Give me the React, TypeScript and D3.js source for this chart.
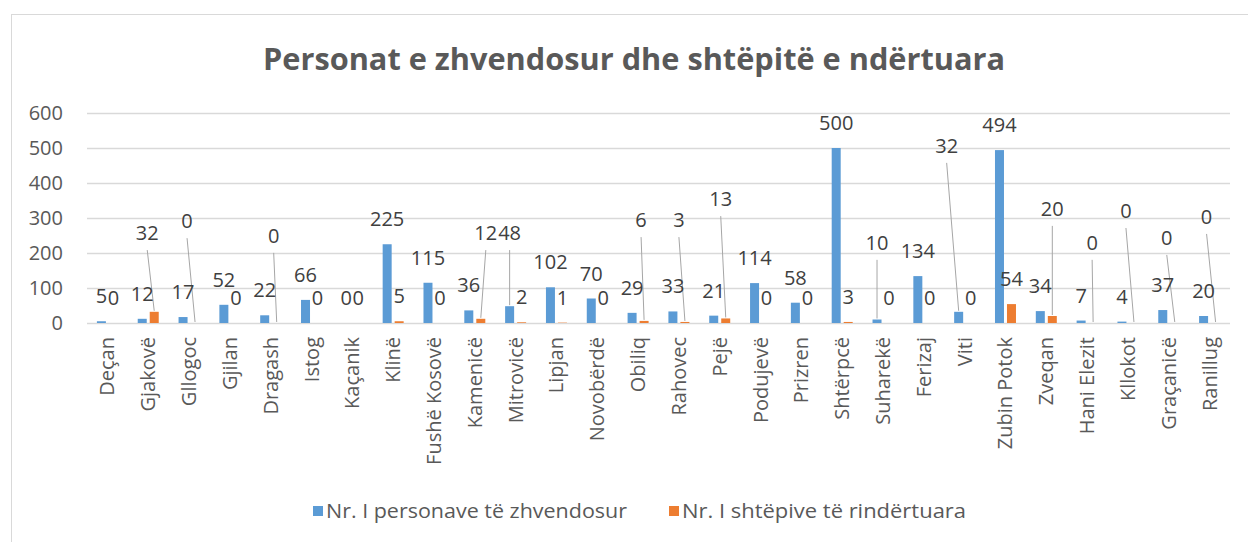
import React, { useEffect, useRef } from 'react';
import * as d3 from 'd3';

const categories = [
  'Deçan', 'Gjakovë', 'Gllogoc', 'Gjilan', 'Dragash', 'Istog', 'Kaçanik', 'Klinë',
  'Fushë Kosovë', 'Kamenicë', 'Mitrovicë', 'Lipjan', 'Novobërdë', 'Obiliq', 'Rahovec',
  'Pejë', 'Podujevë', 'Prizren', 'Shtërpcë', 'Suharekë', 'Ferizaj', 'Viti',
  'Zubin Potok', 'Zveqan', 'Hani Elezit', 'Kllokot', 'Graçanicë', 'Ranillug',
];

const displaced = [5, 12, 17, 52, 22, 66, 0, 225, 115, 36, 48, 102, 70, 29, 33, 21, 114, 58, 500, 10, 134, 32, 494, 34, 7, 4, 37, 20];
const rebuilt = [0, 32, 0, 0, 0, 0, 0, 5, 0, 12, 2, 1, 0, 6, 3, 13, 0, 0, 3, 0, 0, 0, 54, 20, 0, 0, 0, 0];

const seriesNames = ['Nr. I personave të zhvendosur', 'Nr. I shtëpive të rindërtuara'];
const seriesColors = ['#5b9bd5', '#ed7d31'];
const yTicks = [0, 100, 200, 300, 400, 500, 600];

// labels Excel pulled away from their bars (with a leader line): at = value height of label
const movedLabels = [
  { cat: 'Gjakovë', s: 1, at: 257, dx: -7 },
  { cat: 'Gllogoc', s: 1, at: 291, dx: -8 },
  { cat: 'Dragash', s: 1, at: 249, dx: -3 },
  { cat: 'Kamenicë', s: 1, at: 257, dx: 5 },
  { cat: 'Mitrovicë', s: 0, at: 257, dx: 0 },
  { cat: 'Obiliq', s: 1, at: 294, dx: -3 },
  { cat: 'Rahovec', s: 1, at: 294, dx: -6 },
  { cat: 'Pejë', s: 1, at: 354, dx: -5 },
  { cat: 'Suharekë', s: 0, at: 229, dx: 0 },
  { cat: 'Viti', s: 0, at: 506, dx: -12 },
  { cat: 'Zveqan', s: 1, at: 326, dx: 0 },
  { cat: 'Hani Elezit', s: 1, at: 229, dx: -1 },
  { cat: 'Kllokot', s: 1, at: 320, dx: -8 },
  { cat: 'Graçanicë', s: 1, at: 243, dx: -8 },
  { cat: 'Ranillug', s: 1, at: 303, dx: -9 },
];

const FONT = '"Open Sans", "DejaVu Sans", sans-serif';

const App = () => {
  const svgRef = useRef<SVGSVGElement | null>(null);

  useEffect(() => {
    const svg = d3.select(svgRef.current);
    svg.selectAll('*').remove();

    const plot = { left: 87, right: 1230, top: 113, bottom: 323 };

    svg.append('rect')
      .attr('x', 11.5).attr('y', 14.5)
      .attr('width', 1300).attr('height', 600)
      .attr('fill', '#fff').attr('stroke', '#d9d9d9').attr('stroke-width', 1);

    svg.append('text')
      .attr('x', 634).attr('y', 70)
      .attr('text-anchor', 'middle')
      .attr('font-family', FONT).attr('font-weight', 700).attr('font-size', 30)
      .attr('fill', '#595959')
      .attr('textLength', 742).attr('lengthAdjust', 'spacingAndGlyphs')
      .text('Personat e zhvendosur dhe shtëpitë e ndërtuara');

    const x0 = d3.scaleBand<string>().domain(categories).range([plot.left, plot.right]);
    const groupW = 21;
    const x1 = d3.scaleBand<number>().domain([0, 1]).range([0, groupW]).paddingInner(0.25);
    const y = d3.scaleLinear().domain([0, 600]).range([plot.bottom, plot.top]);

    const barX = (cat: string, s: number) => (x0(cat) as number) + (x0.bandwidth() - groupW) / 2 + (x1(s) as number);
    const barCx = (cat: string, s: number) => barX(cat, s) + x1.bandwidth() / 2;

    // gridlines
    svg.append('g').selectAll('line').data(yTicks).join('line')
      .attr('x1', plot.left).attr('x2', plot.right)
      .attr('y1', d => y(d) + 0.5).attr('y2', d => y(d) + 0.5)
      .attr('stroke', '#d9d9d9').attr('stroke-width', 1.5);

    svg.append('g').selectAll('text').data(yTicks).join('text')
      .attr('x', 63).attr('y', d => y(d) + 7)
      .attr('text-anchor', 'end')
      .attr('font-family', FONT).attr('font-size', 20).attr('fill', '#595959')
      .text(d => d);

    const series = [displaced, rebuilt];
    const flat = series.flatMap((vals, s) => vals.map((v, i) => ({ cat: categories[i], s, v })));

    svg.append('g').selectAll('rect').data(flat).join('rect')
      .attr('x', d => barX(d.cat, d.s))
      .attr('y', d => y(d.v))
      .attr('width', x1.bandwidth())
      .attr('height', d => y(0) - y(d.v))
      .attr('fill', d => seriesColors[d.s]);

    // category labels, rotated
    svg.append('g').selectAll('text').data(categories).join('text')
      .attr('transform', d => `translate(${(x0(d) as number) + x0.bandwidth() / 2},337) rotate(-90)`)
      .attr('text-anchor', 'end')
      .attr('dy', '0.35em')
      .attr('font-family', FONT).attr('font-size', 20).attr('fill', '#595959')
      .text(d => d);

    // data labels
    const moved = (d: { cat: string; s: number }) => movedLabels.find(m => m.cat === d.cat && m.s === d.s);
    const labelPos = (d: { cat: string; s: number; v: number }) => {
      const m = moved(d);
      if (m) return { x: barCx(d.cat, d.s) + m.dx, y: y(m.at) };
      return { x: barCx(d.cat, d.s), y: y(d.v) - 25 };
    };

    svg.append('g').selectAll('line').data(flat.filter(d => moved(d))).join('line')
      .attr('x1', d => labelPos(d).x).attr('y1', d => labelPos(d).y + 17)
      .attr('x2', d => barCx(d.cat, d.s)).attr('y2', d => y(d.v) - 1)
      .attr('stroke', '#a6a6a6').attr('stroke-width', 1);

    svg.append('g').selectAll('text').data(flat).join('text')
      .attr('x', d => labelPos(d).x).attr('y', d => labelPos(d).y + 7)
      .attr('text-anchor', 'middle')
      .attr('font-family', FONT).attr('font-size', 20).attr('fill', '#404040')
      .text(d => d.v);

    // legend
    const legendX = [313, 669];
    const legendW = [301, 284];
    const lg = svg.append('g').selectAll('g').data(seriesNames).join('g')
      .attr('transform', (_, i) => `translate(${legendX[i]},506)`);
    lg.append('rect').attr('width', 10).attr('height', 10).attr('fill', (_, i) => seriesColors[i]);
    lg.append('text')
      .attr('x', 13).attr('y', 12)
      .attr('font-family', FONT).attr('font-size', 20).attr('fill', '#595959')
      .attr('textLength', (_, i) => legendW[i]).attr('lengthAdjust', 'spacingAndGlyphs')
      .text(d => d);
  }, []);

  return (
    <svg ref={svgRef} width={1248} height={542}
      style={{ position: 'absolute', left: 0, top: 0, background: '#fff' }}></svg>
  );
};

export default App;
